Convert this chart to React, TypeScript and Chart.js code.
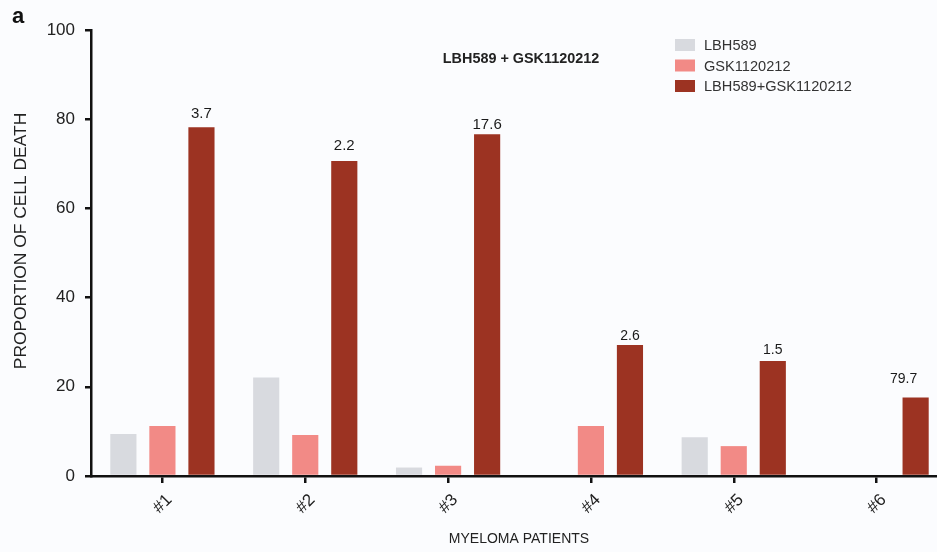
import React, { useEffect, useRef } from "react";
import { Chart, registerables } from "chart.js";
Chart.register(...registerables);

const patients = ["#1", "#2", "#3", "#4", "#5", "#6"];
const seriesNames = ["LBH589", "GSK1120212", "LBH589+GSK1120212"];
const lbh589 = [9.4, 22.1, 1.9, 0, 8.7, 0];
const gsk1120212 = [11.2, 9.2, 2.3, 11.2, 6.7, 0];
const combination = [78.2, 70.6, 76.6, 29.4, 25.8, 17.6];
const comboLabels = ["3.7", "2.2", "17.6", "2.6", "1.5", "79.7"];
const yMin = 0;
const yMax = 100;
const yStep = 20;

const colors = ["#d8dadf", "#f28a86", "#9c3322"];
const BG = "#fbfcfe";
const FONT = "'Liberation Sans', Arial, Helvetica, sans-serif";

// label style: font size and gap above bar, horizontal nudge
const labelSizes = [15, 15, 15, 14, 14, 14];
const labelGaps = [9, 11, 5, 5, 7, 15];
const labelDx = [0, 0, 0, 0, 0, -12];

const decorPlugin = {
  id: "decor",
  beforeDraw(chart: any) {
    const { ctx, width, height } = chart;
    ctx.save();
    ctx.fillStyle = BG;
    ctx.fillRect(0, 0, width, height);
    ctx.restore();
  },
  afterDraw(chart: any) {
    const { ctx } = chart;
    ctx.save();
    // panel letter
    ctx.fillStyle = "#111";
    ctx.font = `bold 22px ${FONT}`;
    ctx.textAlign = "left";
    ctx.textBaseline = "alphabetic";
    ctx.fillText("a", 12, 23);

    // title
    ctx.font = `bold 14.4px ${FONT}`;
    ctx.fillStyle = "#222";
    ctx.textAlign = "center";
    ctx.textBaseline = "middle";
    ctx.fillText("LBH589 + GSK1120212", 521, 59);

    // legend
    ctx.font = `14.6px ${FONT}`;
    ctx.textAlign = "left";
    chart.data.datasets.forEach((ds: any, i: number) => {
      const cy = 45 + i * 20.5;
      ctx.fillStyle = ds.backgroundColor;
      ctx.fillRect(675, cy - 6, 20, 12);
      ctx.fillStyle = "#333";
      ctx.fillText(ds.label, 704, cy + 1);
    });

    // axis titles
    ctx.fillStyle = "#222";
    ctx.font = `14px ${FONT}`;
    ctx.textAlign = "center";
    ctx.fillText("MYELOMA PATIENTS", 519, 539);
    ctx.save();
    ctx.translate(21, 241);
    ctx.rotate(-Math.PI / 2);
    ctx.font = `17.4px ${FONT}`;
    ctx.fillText("PROPORTION OF CELL DEATH", 0, 0);
    ctx.restore();

    // labels above combination bars
    const meta = chart.getDatasetMeta(2);
    ctx.fillStyle = "#1a1a1a";
    ctx.textAlign = "center";
    ctx.textBaseline = "alphabetic";
    meta.data.forEach((bar: any, i: number) => {
      ctx.font = `${labelSizes[i]}px ${FONT}`;
      ctx.fillText(comboLabels[i], bar.x + labelDx[i], bar.y - labelGaps[i]);
    });
    ctx.restore();
  },
};

export default function App() {
  const ref = useRef<HTMLCanvasElement | null>(null);
  useEffect(() => {
    if (!ref.current) return;
    const values = [lbh589, gsk1120212, combination];
    const chart = new Chart(ref.current, {
      type: "bar",
      data: {
        labels: patients,
        datasets: seriesNames.map((name, i) => ({
          label: name,
          data: values[i],
          backgroundColor: colors[i],
          borderWidth: 0,
          categoryPercentage: 0.82,
          barPercentage: 0.67,
        })),
      },
      options: {
        responsive: false,
        animation: false,
        devicePixelRatio: 1,
        layout: { padding: { left: 0, right: 12, top: 30, bottom: 0 } },
        plugins: {
          legend: { display: false },
          title: { display: false },
          tooltip: { enabled: false },
        },
        scales: {
          x: {
            afterFit: (s: any) => {
              s.height = 76;
            },
            grid: {
              offset: false,
              drawOnChartArea: false,
              drawTicks: true,
              tickLength: 7,
              color: "#111",
              lineWidth: 2.5,
            },
            border: { display: true, color: "#111", width: 2.5 },
            ticks: {
              minRotation: 45,
              maxRotation: 45,
              labelOffset: 7,
              padding: 7,
              color: "#222",
              font: { family: FONT, size: 17 },
            },
          },
          y: {
            min: yMin,
            max: yMax,
            afterFit: (s: any) => {
              s.width = 91;
            },
            grid: {
              drawOnChartArea: false,
              drawTicks: true,
              tickLength: 6,
              color: "#111",
              lineWidth: 2.5,
            },
            border: { display: true, color: "#111", width: 2.5 },
            ticks: {
              stepSize: yStep,
              padding: 10,
              color: "#222",
              font: { family: FONT, size: 17 },
            },
          },
        },
      },
      plugins: [decorPlugin],
    });
    return () => chart.destroy();
  }, []);
  return (
    <div
      style={{
        position: "fixed",
        left: 0,
        top: 0,
        width: 937,
        height: 552,
        overflow: "hidden",
        background: BG,
      }}
    >
      <canvas ref={ref} width={960} height={552} style={{ display: "block" }} />
    </div>
  );
}
